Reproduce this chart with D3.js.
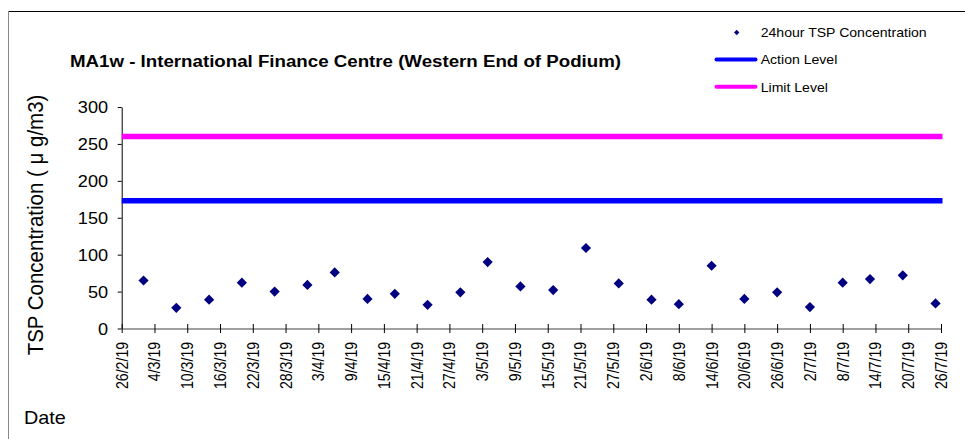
<!DOCTYPE html>
<html>
<head>
<meta charset="utf-8">
<script src="https://cdn.jsdelivr.net/npm/d3@7"></script>
<style>
  html, body { margin: 0; padding: 0; background: #fff; }
  svg { display: block; font-family: "Liberation Sans", Arial, sans-serif; }
</style>
</head>
<body>
<div id="chart"></div>
<script>
// sample dates (d/m/yy) and 24h TSP values
const sampleDates = ["2/3/19", "8/3/19", "14/3/19", "20/3/19", "26/3/19", "1/4/19", "6/4/19",
    "12/4/19", "17/4/19", "23/4/19", "29/4/19", "4/5/19", "10/5/19", "16/5/19", "22/5/19",
    "28/5/19", "3/6/19", "8/6/19", "14/6/19", "20/6/19", "26/6/19", "2/7/19", "8/7/19",
    "13/7/19", "19/7/19", "25/7/19"];
const tspValues = [65, 28, 39, 62, 50, 59, 76, 40, 47, 32, 49, 90, 57, 52, 109, 61, 39, 33,
    85, 40, 49, 29, 62, 67, 72, 34];

const actionLevel = 173;
const limitLevel = 260;

const xTickLabels = ["26/2/19", "4/3/19", "10/3/19", "16/3/19", "22/3/19", "28/3/19", "3/4/19",
    "9/4/19", "15/4/19", "21/4/19", "27/4/19", "3/5/19", "9/5/19", "15/5/19", "21/5/19",
    "27/5/19", "2/6/19", "8/6/19", "14/6/19", "20/6/19", "26/6/19", "2/7/19", "8/7/19",
    "14/7/19", "20/7/19", "26/7/19"];
const yTicks = [0, 50, 100, 150, 200, 250, 300];

const title = "MA1w - International Finance Centre (Western End of Podium)";
const yTitle = "TSP Concentration ( \u03bc g/m3)";
const xTitle = "Date";
const legendItems = ["24hour TSP Concentration", "Action Level", "Limit Level"];

const width = 965, height = 439;
const sx = 1.1; // the source picture is a little wider than tall
const navy = "#000080", blue = "#0000ff", magenta = "#ff00ff";

const parse = d3.utcParse("%d/%m/%y");
const data = sampleDates.map((d, i) => ({ date: parse(d), value: tspValues[i] }));
const tickDates = xTickLabels.map(parse);

const x = d3.scaleUtc()
    .domain([tickDates[0], tickDates[tickDates.length - 1]])
    .range([121.7, 941]);
const y = d3.scaleLinear().domain([0, 300]).range([328.5, 107]);

const svg = d3.select("#chart").append("svg")
    .attr("width", width).attr("height", height);

// outer frame (only top and left are inside the picture)
svg.append("line").attr("x1", 8.5).attr("x2", width).attr("y1", 11.5).attr("y2", 11.5)
    .attr("stroke", "#000");
svg.append("line").attr("x1", 8.5).attr("x2", 8.5).attr("y1", 11.5).attr("y2", height)
    .attr("stroke", "#888");

// horizontal text, stretched a bit
function label(px, py, txt, size, opts = {}) {
    return svg.append("text")
        .attr("transform", `translate(${px},${py}) scale(${sx},1)` + (opts.rotate ? " rotate(-90)" : ""))
        .attr("text-anchor", opts.anchor || "start")
        .attr("font-size", size)
        .attr("font-weight", opts.bold ? "bold" : null)
        .attr("fill", "#000")
        .text(txt);
}

label(70, 66.5, title, 17, { bold: true });
label(43, 225, yTitle, 20.5, { rotate: true, anchor: "middle" });
label(24, 424, xTitle, 18);

// y axis
const yAxis = svg.append("g")
    .attr("transform", `translate(${x.range()[0]},0)`)
    .call(d3.axisLeft(y).tickValues(yTicks).tickSize(4).tickSizeOuter(0));
yAxis.select(".domain").attr("stroke", "#000");
yAxis.selectAll(".tick line").attr("stroke", "#000");
yAxis.selectAll(".tick text")
    .attr("x", null).attr("dy", "0.36em")
    .attr("transform", `translate(-13.6,0) scale(${sx},1)`)
    .attr("font-size", 16.5).attr("font-family", null).attr("fill", "#000");

// x axis
const xAxis = svg.append("g")
    .attr("transform", `translate(0,${y(0)})`)
    .call(d3.axisBottom(x).tickValues(tickDates).tickFormat((d, i) => xTickLabels[i])
        .tickSize(4.5).tickSizeOuter(0));
xAxis.select(".domain").attr("stroke", "#808080").attr("stroke-width", 1.5);
xAxis.selectAll(".tick line").attr("y1", -4.5).attr("y2", 4.5).attr("stroke", "#000");
xAxis.selectAll(".tick text")
    .attr("y", null).attr("dy", "0.35em")
    .attr("text-anchor", "end")
    .attr("transform", `translate(0,13.3) scale(${sx},1) rotate(-90)`)
    .attr("font-size", 14.2).attr("font-family", null).attr("fill", "#000");

// action / limit levels
const levels = [{ v: limitLevel, c: magenta }, { v: actionLevel, c: blue }];
svg.selectAll(".level")
    .data(levels)
    .join("line")
    .attr("class", "level")
    .attr("x1", x.range()[0]).attr("x2", x.range()[1] + 1.5)
    .attr("y1", d => y(d.v)).attr("y2", d => y(d.v))
    .attr("stroke", d => d.c)
    .attr("stroke-width", 5.5);

// TSP points
const diamond = d3.symbol(d3.symbolSquare, 52);
svg.selectAll(".pt")
    .data(data)
    .join("path")
    .attr("class", "pt")
    .attr("d", diamond)
    .attr("transform", d => `translate(${x(d.date)},${y(d.value)}) rotate(45)`)
    .attr("fill", navy);

// legend
const legend = svg.append("g");
const legendY = [32.5, 59.5, 86.8];
legend.append("path")
    .attr("d", d3.symbol(d3.symbolSquare, 14))
    .attr("transform", `translate(736.7,${legendY[0]}) rotate(45)`)
    .attr("fill", navy);
[blue, magenta].forEach((c, i) => {
    legend.append("line")
        .attr("x1", 716.5).attr("x2", 755.5)
        .attr("y1", legendY[i + 1]).attr("y2", legendY[i + 1])
        .attr("stroke", c).attr("stroke-width", 4).attr("stroke-linecap", "round");
});
legendItems.forEach((t, i) => {
    label(760.7, legendY[i] + 4.7, t, 12.8);
});
</script>
</body>
</html>
